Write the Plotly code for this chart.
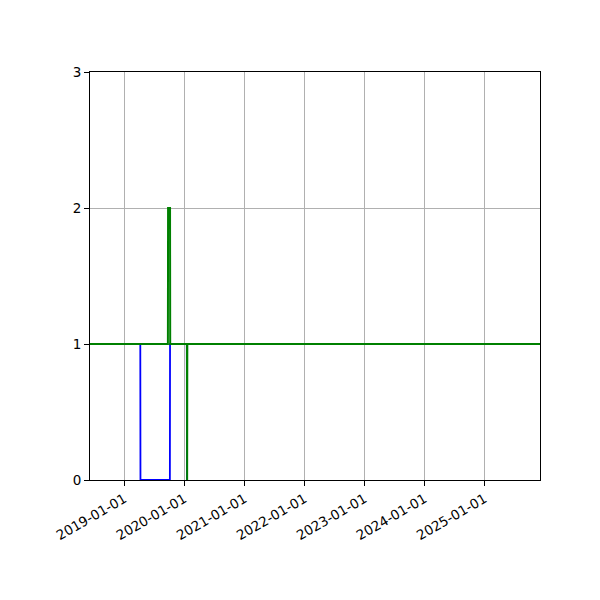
import plotly.graph_objs as go

# step series (one point per change)
blue_dates = ["2018-06-01", "2019-04-08", "2019-04-09", "2019-10-05", "2019-10-06",
              "2020-01-16", "2020-01-17", "2020-01-18", "2025-12-10"]
blue_values = [1, 1, 0, 0, 1, 1, 0, 1, 1]

green_dates = ["2018-06-01", "2019-09-23", "2019-09-24", "2019-10-06", "2019-10-07",
               "2020-01-17", "2020-01-18", "2020-01-19", "2025-12-10"]
green_values = [1, 1, 2, 2, 1, 1, 0, 1, 1]

x_ticks = ["2019-01-01", "2020-01-01", "2021-01-01", "2022-01-01",
           "2023-01-01", "2024-01-01", "2025-01-01"]
y_ticks = [0, 1, 2, 3]

blue_trace = go.Scatter(x=blue_dates, y=blue_values, mode='lines',
                        line=dict(color='blue', width=1.8), showlegend=False)
green_trace = go.Scatter(x=green_dates, y=green_values, mode='lines',
                         line=dict(color='green', width=2), showlegend=False)

axis_style = dict(showline=True, mirror=True, linecolor='black', linewidth=1,
                  ticks='outside', ticklen=5, tickwidth=1, tickcolor='black',
                  showgrid=True, gridcolor='#b0b0b0', gridwidth=0.8, zeroline=False)

# page body adds ~8px offset, margins compensate so the plot box lands at 90..540 / 72..480
layout = go.Layout(
    width=600, height=600,
    margin=dict(l=82, r=68, t=64, b=128),
    plot_bgcolor='white', paper_bgcolor='white',
    font=dict(family='DejaVu Sans', size=13.5, color='black'),
    xaxis=dict(type='date', range=["2018-06-06", "2025-12-04"],
               tickvals=x_ticks, ticktext=x_ticks, tickangle=-30, **axis_style),
    yaxis=dict(range=[0, 3], tickvals=y_ticks, ticktext=[str(v) for v in y_ticks],
               **axis_style),
)

fig = go.Figure(data=[blue_trace, green_trace], layout=layout)
fig.write_html("out.html")
